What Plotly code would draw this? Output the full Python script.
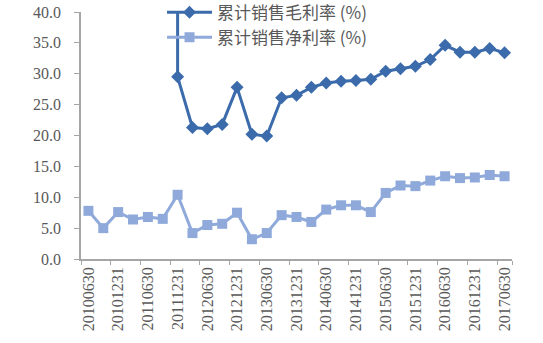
import plotly.graph_objects as go

quarters = ["20100630", "20100930", "20101231", "20110331", "20110630", "20110930",
            "20111231", "20120331", "20120630", "20120930", "20121231", "20130331",
            "20130630", "20130930", "20131231", "20140331", "20140630", "20140930",
            "20141231", "20150331", "20150630", "20150930", "20151231", "20160331",
            "20160630", "20160930", "20161231", "20170331", "20170630"]

gross_margin = [None, None, None, None, None, None,
                29.5, 21.3, 21.1, 21.8, 27.8, 20.2, 19.9, 26.1, 26.5, 27.8, 28.5,
                28.8, 28.9, 29.1, 30.4, 30.8, 31.2, 32.3, 34.6, 33.5, 33.5, 34.1, 33.4]

net_margin = [7.8, 5.0, 7.6, 6.4, 6.8, 6.5, 10.4, 4.2, 5.5, 5.7, 7.5, 3.2, 4.2,
              7.1, 6.8, 6.0, 8.0, 8.7, 8.7, 7.6, 10.7, 11.9, 11.8, 12.7, 13.4,
              13.1, 13.2, 13.6, 13.4]

tick_labels = quarters[::2]

y_max = 40

dark = "#3B6BAA"
light = "#8FAADA"

fig = go.Figure()

first_idx = next(i for i, v in enumerate(gross_margin) if v is not None)
fig.add_trace(go.Scatter(
    x=[quarters[first_idx], quarters[first_idx]], y=[gross_margin[first_idx], y_max],
    mode="lines", line=dict(color=dark, width=3), showlegend=False, hoverinfo="skip",
    cliponaxis=False))

fig.add_trace(go.Scatter(
    x=quarters, y=gross_margin, name="累计销售毛利率 (%)",
    mode="lines+markers", line=dict(color=dark, width=3),
    marker=dict(symbol="diamond", size=10, color=dark), cliponaxis=False))

fig.add_trace(go.Scatter(
    x=quarters, y=net_margin, name="累计销售净利率 (%)",
    mode="lines+markers", line=dict(color=light, width=3),
    marker=dict(symbol="square", size=10, color=light), cliponaxis=False))

fig.update_layout(
    width=543, height=343,
    margin=dict(l=81, r=31, t=12, b=84, autoexpand=False),
    paper_bgcolor="white", plot_bgcolor="white",
    font=dict(family="Liberation Serif", color="#595959"),
    legend=dict(x=0.188, y=1.07, xanchor="left", yanchor="top",
                bgcolor="rgba(0,0,0,0)",
                font=dict(family="Noto Sans CJK SC", size=17, color="#595959"),
                tracegroupgap=0, itemwidth=45),
    showlegend=True,
)

fig.update_xaxes(
    type="category", categoryorder="array", categoryarray=quarters,
    tickmode="array", tickvals=tick_labels, ticktext=tick_labels,
    tickangle=-90, tickfont=dict(family="Liberation Serif", size=16, color="#595959"),
    showline=True, linecolor="#A6A6A6", linewidth=1.5,
    ticks="outside", tickson="boundaries", ticklen=4, tickcolor="#A6A6A6",
    showgrid=False, zeroline=False, range=[-0.5, len(quarters) - 0.5],
)

fig.update_yaxes(
    range=[0, y_max], dtick=5, tickformat=".1f",
    tickfont=dict(family="Liberation Serif", size=16, color="#595959"),
    showline=True, linecolor="#A6A6A6", linewidth=1.5,
    ticks="outside", ticklen=5, tickcolor="#A6A6A6", ticklabelstandoff=10,
    showgrid=False, zeroline=False,
)

fig.write_html("out.html")
